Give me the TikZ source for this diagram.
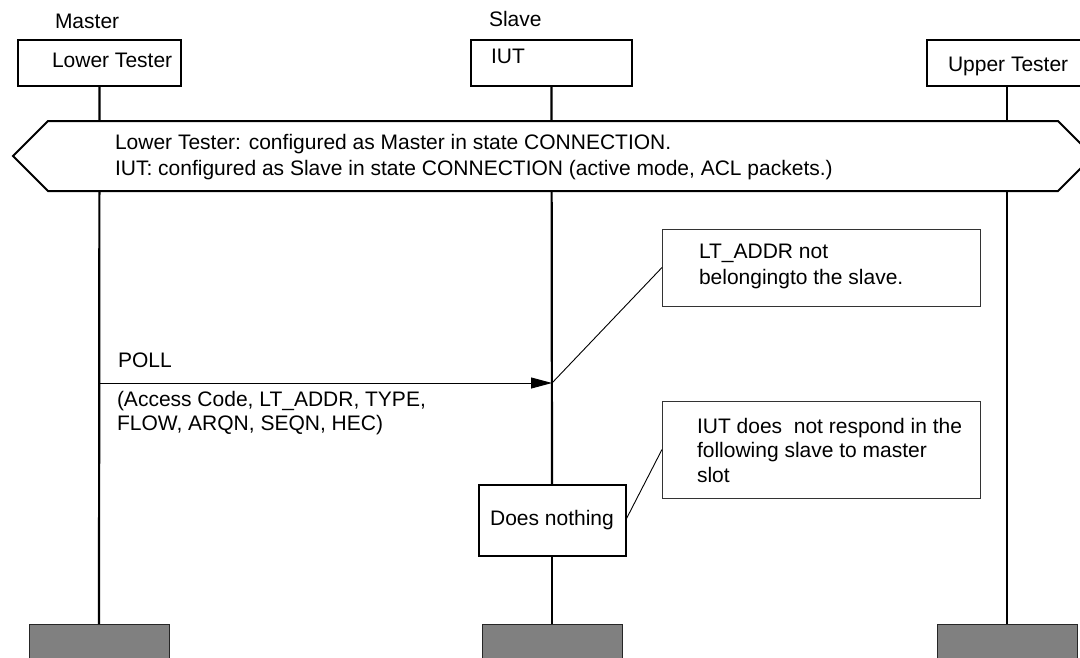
\documentclass[tikz,border=0pt]{standalone}
\usepackage{fontspec}
\setmainfont{Liberation Sans}
\usetikzlibrary{arrows.meta}
\begin{document}
\begin{tikzpicture}[x=1pt,y=-1pt,
  every node/.style={font=\fontsize{21}{26}\selectfont, inner sep=0pt, outer sep=0pt},
  instbox/.style={draw, line width=2pt, fill=white, anchor=north west, minimum height=46pt},
  endbox/.style={draw=black!85, line width=1pt, fill=black!50, anchor=north west, minimum width=140pt, minimum height=40pt},
  notebox/.style={draw=black!80, line width=1pt, fill=white, anchor=north west, minimum width=318pt},
  actbox/.style={draw, line width=2pt, fill=white, anchor=north west},
  lifeline/.style={line width=2.2pt},
  txt/.style={anchor=base west, align=left},
  thinline/.style={line width=0.9pt}]
\useasboundingbox (0,0) rectangle (1080,657);

% instance heads
\node[instbox, minimum width=163pt] (lt) at (18,40) {};
\node[instbox, minimum width=161pt] (iut) at (471,40) {};
\node[instbox, minimum width=160pt] (ut) at (927,40) {};

% instance ends
\node[endbox] (e1) at (29,624) {};
\node[endbox] (e2) at (482,624) {};
\node[endbox] (e3) at (937,624) {};

% action box on IUT
\node[actbox, minimum width=147pt, minimum height=71pt] (dn) at (478.5,485) {Does nothing};

% lifelines
\draw[lifeline] (lt.south) -- (e1.north);
\draw[lifeline] (iut.south) -- (dn.north);
\draw[lifeline] (dn.south) -- (e2.north);
\draw[lifeline] (ut.south) -- (e3.north);

% redraw boxes above lifelines
\node[instbox, minimum width=163pt] at (18,40) {};
\node[instbox, minimum width=161pt] at (471,40) {};
\node[instbox, minimum width=160pt] at (927,40) {};
\node[actbox, minimum width=147pt, minimum height=71pt] at (478.5,485) {Does nothing};

% instance labels
\node[txt] (master) at (55,28) {Master};
\node[txt] (slave) at (489,26) {Slave};
\node[txt] (ltlabel) at (52,67) {Lower Tester};
\node[txt] (iutlabel) at (491,63) {IUT};
\node[txt] (utlabel) at (948,71) {Upper Tester};

% condition (hexagon)
\draw[line width=2pt, fill=white] (13,156) -- (48,121) -- (1058,121) -- (1093,156) -- (1058,191) -- (48,191) -- cycle;
\node[txt] (cond) at (115,175) {Lower Tester: configured as Master in state CONNECTION.\\IUT: configured as Slave in state CONNECTION (active mode, ACL packets.)};

% notes
\node[notebox, minimum height=77pt] (n1) at (662,229) {};
\node[txt] (n1t) at (699,284) {LT\_ADDR not\\belongingto the slave.};
\node[notebox, minimum height=97pt] (n2) at (662,401) {};
\node[txt, font=\fontsize{21}{24.5}\selectfont] (n2t) at (697,482) {IUT does\ \ not respond in the\\following slave to master\\slot};

% message
\coordinate (pollstart) at (99,383);
\coordinate (pollend) at (552,383);
\draw[thinline, -{Triangle[length=21pt,width=11pt]}] (pollstart) -- (pollend);
\node[txt] (poll) at (118,367) {POLL};
\node[txt, font=\fontsize{21}{23.5}\selectfont] (pollparams) at (117,430) {(Access Code, LT\_ADDR, TYPE,\\FLOW, ARQN, SEQN, HEC)};

% note connectors
\draw[thinline] (pollend) -- (n1.west);
\draw[thinline] (dn.east) -- (n2.west);
\end{tikzpicture}
\end{document}
